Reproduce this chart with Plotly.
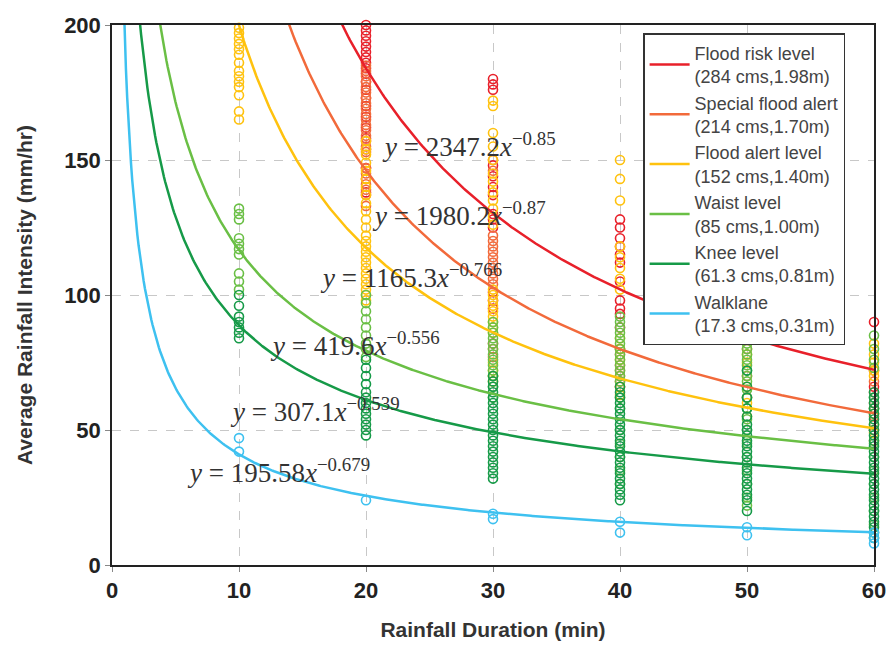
import numpy as np
import plotly.graph_objects as go

# ---- data ----
series_names = [
    "Flood risk level<br>(284 cms,1.98m)",
    "Special flood alert<br>(214 cms,1.70m)",
    "Flood alert level<br>(152 cms,1.40m)",
    "Waist level<br>(85 cms,1.00m)",
    "Knee level<br>(61.3 cms,0.81m)",
    "Walklane<br>(17.3 cms,0.31m)",
]
coef_a = [2347.2, 1980.2, 1165.3, 419.6, 307.1, 195.58]
coef_b = [-0.85, -0.87, -0.766, -0.556, -0.539, -0.679]
eq_labels = ["2347.2", "1980.2", "1165.3", "419.6", "307.1", "195.58"]
exp_labels = ["−0.85", "−0.87", "−0.766", "−0.556", "−0.539", "−0.679"]
colors = ["#e8202a", "#f26a3b", "#ffc20e", "#6abf45", "#169a48", "#3ec1f0"]

durations = [10, 20, 30, 40, 50, 60]

red_obs = {
    20: [200, 198, 196, 194, 192, 190, 188, 186, 184, 182, 179, 176, 173, 170, 166, 162, 158, 154, 147, 143, 138],
    30: [180, 178, 176, 148, 144, 140, 137, 130, 128, 125, 101, 98, 95, 82],
    40: [128, 125, 121, 118, 115, 112, 105, 98, 95, 93, 88],
    50: [102, 99, 91],
    60: [90, 72, 66],
}
orange_obs = {
    20: [185, 183, 181, 179, 177, 175, 173, 171, 169, 167, 165, 163, 161, 159, 157, 155, 153, 147, 145, 141, 139, 137, 133],
    30: [150, 146, 122, 120, 118, 116, 114, 112, 110, 108, 106, 104, 80, 77],
    40: [80, 78, 74, 72, 70, 68, 66],
    50: [80, 70, 62],
    60: [68, 64, 60, 58, 55, 50],
}
yellow_obs = {
    10: [199, 197, 195, 193, 191, 189, 186, 183, 181, 179, 177, 174, 168, 165],
    20: [157, 154, 152, 149, 146, 143, 140, 137, 134, 131, 128, 125, 122, 120, 118, 116, 114, 112, 110, 108, 106, 104, 102, 100, 98],
    30: [172, 170, 160, 155, 150, 145, 142, 138, 135, 132, 129, 126, 102, 100, 98, 96, 94, 92, 90, 88, 86, 75, 72, 70, 68],
    40: [150, 143, 135, 118, 114, 110, 106, 102, 84, 80, 76, 66, 63],
    50: [86, 78, 75, 66, 60, 55],
    60: [82, 78, 75, 72, 70, 56, 52, 49, 46],
}
lightgreen_obs = {
    10: [132, 130, 128, 121, 119, 117, 115, 108, 105, 102],
    20: [100, 97, 94, 91, 88, 85, 82, 80, 77],
    30: [90, 88, 86, 84, 82, 80, 78, 76, 74, 72, 70, 66, 62],
    40: [92, 90, 88, 86, 84, 82, 80, 78, 76, 74, 72, 70, 68, 62, 58, 50, 45, 40, 35, 30],
    50: [85, 82, 80, 78, 76, 74, 72, 70, 68, 65, 62, 58, 54, 50, 45, 40, 35, 30, 25, 22],
    60: [85, 80, 76, 73, 62, 58, 45, 40, 35, 30, 25, 20, 15],
}
darkgreen_obs = {
    10: [100, 96, 92, 90, 88, 86, 84],
    20: [76, 73, 70, 67, 64, 62, 60, 58, 56, 54, 52, 50, 48],
    30: [70, 68, 66, 64, 62, 60, 58, 56, 54, 52, 50, 48, 46, 44, 42, 40, 38, 36, 34, 32],
    40: [66, 64, 62, 60, 58, 56, 54, 52, 50, 48, 46, 44, 42, 40, 38, 36, 34, 32, 30, 28, 26, 24],
    50: [72, 66, 62, 58, 55, 52, 50, 48, 46, 44, 42, 40, 38, 36, 34, 32, 30, 28, 26, 24, 20],
    60: [64, 62, 60, 58, 56, 54, 52, 50, 48, 46, 44, 42, 40, 38, 36, 34, 32, 30, 28, 26, 24, 22, 20, 18, 16, 14, 12, 10],
}
blue_obs = {
    10: [47, 42],
    20: [24],
    30: [19, 17],
    40: [16, 12],
    50: [14, 11],
    60: [12, 10, 8],
}
observations = [red_obs, orange_obs, yellow_obs, lightgreen_obs, darkgreen_obs, blue_obs]

# equation label anchor positions (data coords, left edge / vertical centre)
eq_x = [21.1, 20.3, 16.2, 12.3, 9.1, 5.75]
eq_y = [155.5, 130, 107, 82, 57.5, 35]

x_ticks = [0, 10, 20, 30, 40, 50, 60]
y_ticks = [0, 50, 100, 150, 200]

# ---- figure ----
fig = go.Figure()

# scatter observations
for obs, col in zip(observations, colors):
    xs, ys = [], []
    for d in durations:
        for v in obs.get(d, []):
            xs.append(d)
            ys.append(v)
    fig.add_trace(go.Scatter(
        x=xs, y=ys, mode="markers", showlegend=False, cliponaxis=False,
        marker=dict(symbol="circle-open", size=9, color=col, line=dict(width=1.6, color=col)),
        hoverinfo="skip"))

# fitted curves
xx = np.linspace(0.3, 60, 600)
for i, (name, a, b, col) in enumerate(zip(series_names, coef_a, coef_b, colors)):
    fig.add_trace(go.Scatter(
        x=xx, y=a * xx ** b, mode="lines", name=name, legendgroup=f"g{i}",
        line=dict(color=col, width=2.5)))

# equation annotations
for lab, ex, xe, ye in zip(eq_labels, exp_labels, eq_x, eq_y):
    fig.add_annotation(
        x=xe, y=ye, xref="x", yref="y", xanchor="left", yanchor="middle",
        text=f"<i>y</i> = {lab}<i>x</i><sup>{ex}</sup>", showarrow=False,
        font=dict(family="Liberation Serif", size=27, color="#333333"))

axis_common = dict(
    showline=True, linecolor="#222222", linewidth=1.5, mirror=True,
    ticks="outside", ticklen=5, tickcolor="#888888",
    showgrid=True, gridcolor="#c8c8c8", griddash="dash", gridwidth=1,
    zeroline=False, automargin=False,
    tickfont=dict(family="Liberation Sans", size=22, color="#222222", weight="bold"),
)

fig.update_xaxes(range=[0, 60], tickvals=x_ticks, **axis_common,
                 title=dict(text="<b>Rainfall Duration (min)</b>", standoff=20,
                            font=dict(family="Liberation Sans", size=21, color="#333333")))
fig.update_yaxes(range=[0, 200], tickvals=y_ticks, **axis_common,
                 title=dict(text="<b>Average Rainfall Intensity (mm/hr)</b>", standoff=26,
                            font=dict(family="Liberation Sans", size=21, color="#333333")))

fig.update_layout(
    width=890, height=646,
    margin=dict(l=112, r=16, t=25, b=81),
    plot_bgcolor="white", paper_bgcolor="white",
    legend=dict(
        x=0.697, y=0.985, xanchor="left", yanchor="top",
        bgcolor="white", bordercolor="#333333", borderwidth=1.5,
        font=dict(family="Liberation Sans", size=18, color="#444444"),
        tracegroupgap=0, itemwidth=40,
    ),
)

fig.write_html("out.html")
